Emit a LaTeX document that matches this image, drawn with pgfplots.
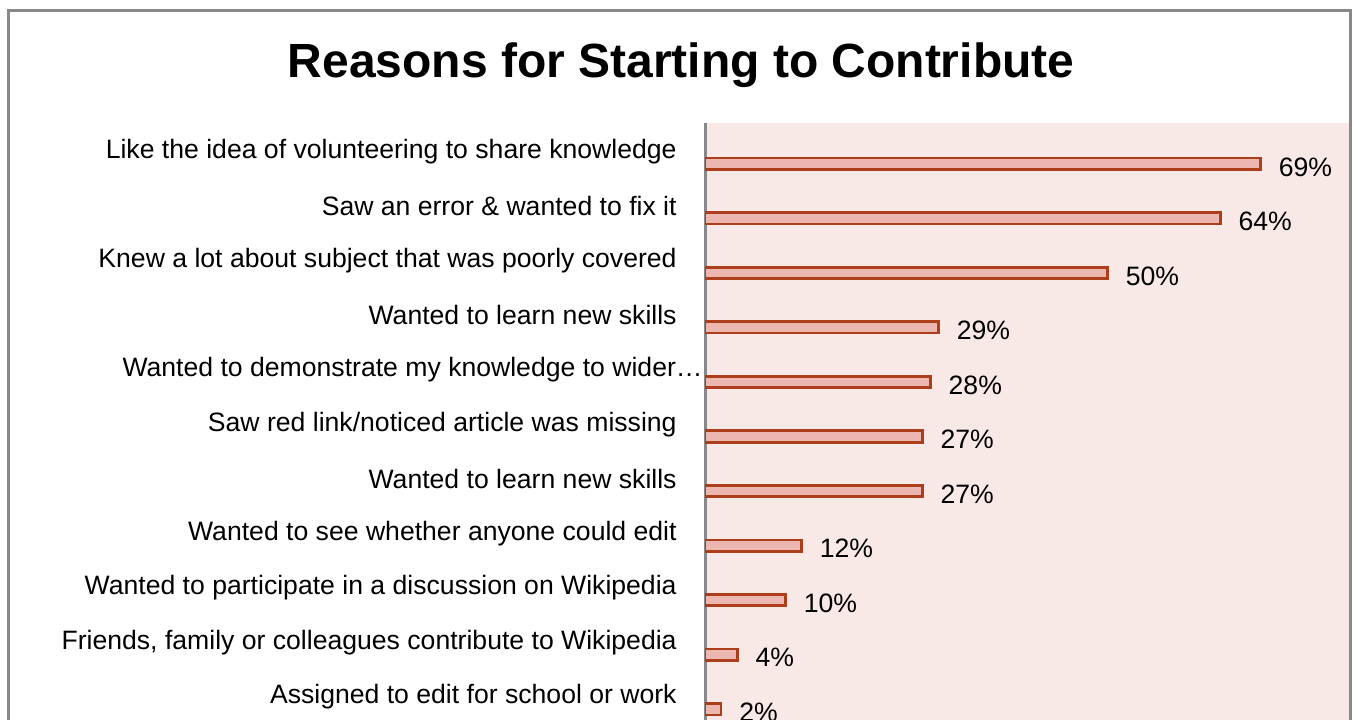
\documentclass[border=0pt]{standalone}
\usepackage{fontspec}
\setmainfont{Liberation Sans}
\usepackage{pgfplots}
\pgfplotsset{compat=1.18}

\definecolor{bgpink}{RGB}{248,232,230}
\definecolor{barfill}{RGB}{236,183,177}
\definecolor{bardraw}{RGB}{172,62,28}
\definecolor{framegray}{RGB}{136,136,136}

% one pixel of the reference = 0.5pt, y measured from the bottom edge (719px)
\begin{document}
\begin{tikzpicture}
\useasboundingbox (0pt,0pt) rectangle (676.5pt,359.5pt);
\clip (0pt,0pt) rectangle (676.5pt,359.5pt);
\fill[white] (0pt,0pt) rectangle (676.5pt,359.5pt);
\draw[framegray, line width=1.5pt] (4.25pt,-30pt) -- (4.25pt,354pt) -- (675.25pt,354pt) -- (675.25pt,-30pt);
\node[anchor=base, font=\fontsize{24}{28}\selectfont\bfseries] at (340.5pt,320.5pt) {Reasons for Starting to Contribute};
\begin{axis}[
    at={(352.5pt,-15.5pt)}, anchor=south west,
    width=322pt, height=313.5pt, scale only axis,
    xbar, bar width=0.21,
    xmin=0, xmax=80,
    ymin=-0.75, ymax=10.75,
    axis background/.style={fill=bgpink},
    axis x line=none,
    axis y line*=left,
    y axis line style={draw=framegray, line width=1.5pt},
    xtick=\empty,
    ytick={0,...,10},
    major tick length=0pt,
    yticklabels={
        Assigned to edit for school or work,
        {Friends, family or colleagues contribute to Wikipedia},
        Wanted to participate in a discussion on Wikipedia,
        Wanted to see whether anyone could edit,
        Wanted to learn new skills,
        Saw red link/noticed article was missing,
        {Wanted to demonstrate my knowledge to wider…\kern-13pt},
        Wanted to learn new skills,
        Knew a lot about subject that was poorly covered,
        Saw an error \& wanted to fix it,
        Like the idea of volunteering to share knowledge},
    yticklabel style={anchor=east, inner sep=0pt, xshift=-14pt, yshift=6pt,
        font=\fontsize{13.3}{16}\selectfont},
    /pgf/number format/assume math mode=true,
    nodes near coords={\pgfmathprintnumber{\pgfplotspointmeta}\%},
    every node near coord/.append style={anchor=west, inner sep=0pt,
        xshift=8.5pt, yshift=-1.5pt, font=\fontsize{13.3}{16}\selectfont, text=black},
]
\addplot[fill=barfill, draw=bardraw, line width=1.3pt] coordinates {
    (2,0) (4,1) (10,2) (12,3) (27,4) (27,5) (28,6) (29,7) (50,8) (64,9) (69,10)
};
\end{axis}
\end{tikzpicture}
\end{document}
